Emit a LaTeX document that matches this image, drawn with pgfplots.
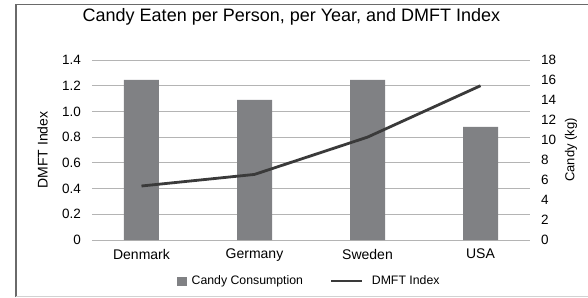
\documentclass[border=0pt]{standalone}
\usepackage{fontspec}
\setmainfont{Liberation Sans}
\usepackage{pgfplots}
\pgfplotsset{compat=1.18}
\definecolor{bargray}{HTML}{808184}
\definecolor{linegray}{HTML}{3A3A3A}
\definecolor{gridgray}{HTML}{B4B4B4}
\definecolor{framegray}{HTML}{6A6A6A}
\definecolor{framelight}{HTML}{D2D2D2}
\pgfplotsset{
  linelegend/.style={legend image code/.code={\draw[##1] (0pt,0pt) -- (31pt,0pt); \path (34pt,0pt);}},
  barlegend/.style={legend image code/.code={\fill[bargray] (0pt,-4pt) rectangle (9pt,4pt);}},
}
\begin{document}
\begin{tikzpicture}[x=1pt,y=1pt]
\path[use as bounding box] (-92,-57) rectangle (496,240);
\draw[line width=1.4pt, color=framegray] (-76,-57) -- (-76,235.5) -- (496,235.5);
\draw[line width=1pt, color=framelight] (-76,-56) -- (496,-56);
% Axis 1: left scale, grid, labels
\begin{axis}[
  at={(0,0)}, anchor=south west,
  scale only axis, width=438pt, height=180pt,
  xmin=-0.438, xmax=3.438, ymin=0, ymax=1.4,
  axis line style={draw=none},
  tick style={draw=none},
  ymajorgrids, grid style={gridgray, line width=0.9pt},
  ytick={0,0.2,0.4,0.6,0.8,1.0,1.2,1.4},
  yticklabels={0,0.2,0.4,0.6,0.8,1.0,1.2,1.4},
  yticklabel style={font=\fontsize{13.5}{15}\selectfont, inner sep=0pt, anchor=east, xshift=-11pt},
  xtick={0,1,2,3},
  xticklabels={Denmark,Germany,Sweden,USA},
  xticklabel style={font=\fontsize{14}{16}\selectfont, inner sep=0pt, anchor=north, yshift=-9pt},
  ylabel={DMFT Index},
  ylabel style={font=\fontsize{14}{16}\selectfont, at={(rel axis cs:-0.113,0.5)}, anchor=center},
  title={Candy Eaten per Person, per Year, and DMFT Index},
  title style={font=\fontsize{18}{20}\selectfont, at={(rel axis cs:0.4555,1.183)}, anchor=base, inner sep=0pt},
]
\end{axis}
% Axis 2: right scale, bars
\begin{axis}[
  at={(0,0)}, anchor=south west,
  scale only axis, width=438pt, height=180pt,
  xmin=-0.438, xmax=3.438, ymin=0, ymax=18,
  axis x line=none,
  axis y line*=right,
  axis line style={draw=none},
  tick style={draw=none},
  ytick={0,2,4,6,8,10,12,14,16,18},
  yticklabels={0,2,4,6,8,10,12,14,16,18},
  yticklabel style={font=\fontsize{13.5}{15}\selectfont, inner sep=0pt, anchor=west, xshift=11pt},
  ylabel={Candy (kg)},
  ylabel style={font=\fontsize{13}{15}\selectfont, at={(rel axis cs:1.0936,0.5)}, anchor=center},
  ybar, bar width=35pt, bar shift=0pt,
]
\addplot[fill=bargray, draw=none] coordinates {(0,16) (1,14) (2,16) (3,11.3)};
\end{axis}
% Axis 3: left scale, line and legend
\begin{axis}[
  at={(0,0)}, anchor=south west,
  scale only axis, width=438pt, height=180pt,
  xmin=-0.438, xmax=3.438, ymin=0, ymax=1.4,
  axis lines=none,
  legend columns=2,
  legend style={at={(rel axis cs:0.494,-0.228)}, anchor=center, draw=none, fill=none,
    font=\fontsize{12.3}{14}\selectfont,
    nodes={inner sep=0pt},
    /tikz/every odd column/.append style={column sep=5pt},
    /tikz/every even column/.append style={column sep=27pt}},
]
\addlegendimage{barlegend}
\addlegendentry{Candy Consumption}
\addplot[linegray, line width=2.8pt, linelegend]
  coordinates {(0,0.42) (1,0.51) (2,0.80) (3,1.20)};
\addlegendentry{DMFT Index}
\end{axis}
\end{tikzpicture}
\end{document}
